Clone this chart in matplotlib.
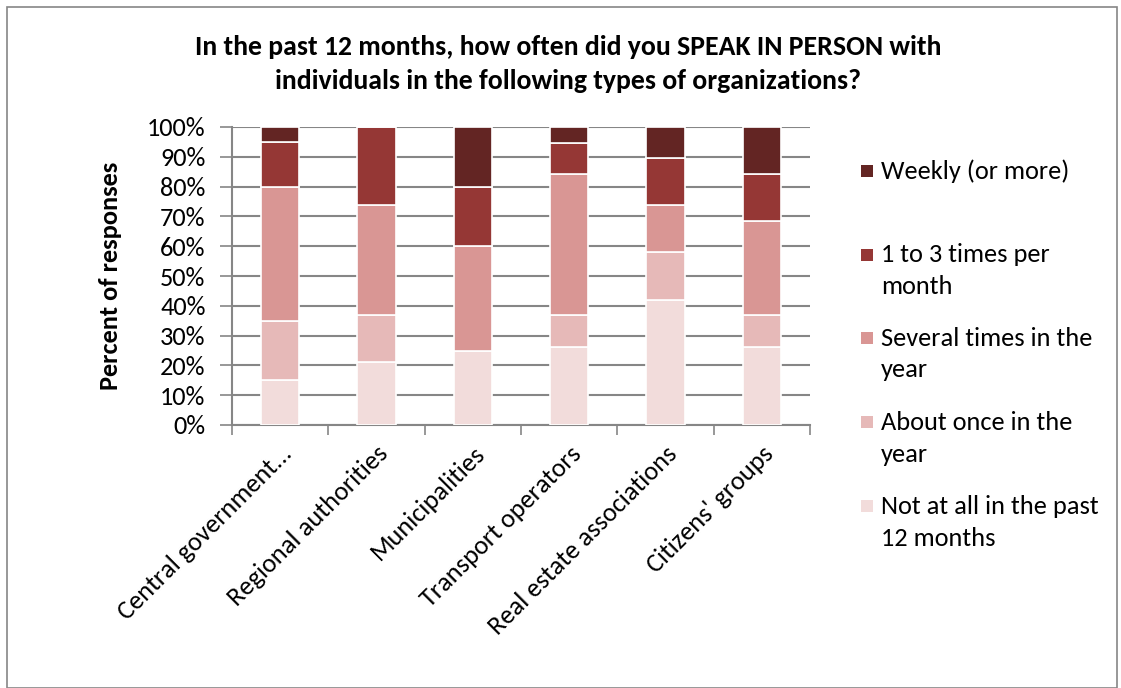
import matplotlib.pyplot as plt
import matplotlib.font_manager as fm
from matplotlib.patches import Rectangle
import numpy as np

# Calibri look-alike if there is one, otherwise Lato
installed = {f.name for f in fm.fontManager.ttflist}
font = 'Carlito' if 'Carlito' in installed else 'Lato'
plt.rcParams['font.family'] = [font, 'DejaVu Sans']

categories = ['Central government...', 'Regional authorities', 'Municipalities',
              'Transport operators', 'Real estate associations', "Citizens' groups"]

# percent of responses, bottom segment first
not_at_all = [15.0, 21.1, 25.0, 26.3, 42.1, 26.3]
once_year = [20.0, 15.8, 0.0, 10.5, 15.8, 10.5]
several_year = [45.0, 36.8, 35.0, 47.4, 15.8, 31.6]
monthly = [15.0, 26.3, 20.0, 10.5, 15.8, 15.8]
weekly = [5.0, 0.0, 20.0, 5.3, 10.5, 15.8]

series = [
    ('Not at all in the past\n12 months', not_at_all, '#F2DCDB'),
    ('About once in the\nyear', once_year, '#E6B9B8'),
    ('Several times in the\nyear', several_year, '#D99694'),
    ('1 to 3 times per\nmonth', monthly, '#953735'),
    ('Weekly (or more)', weekly, '#632523'),
]

W, H = 1121, 688
FS = 19
fig = plt.figure(figsize=(W / 100, H / 100), dpi=100)
fig.patches.append(Rectangle((7 / W, 0), 1110 / W, 1 - 7 / H, transform=fig.transFigure,
                             fill=False, edgecolor='#868686', lw=1.2))

ax = fig.add_axes([232 / W, 1 - 425 / H, 578 / W, 298 / H])
x = np.arange(len(categories))
bottom = np.zeros(len(categories))
for label, vals, color in series:
    ax.bar(x, vals, 0.4, bottom=bottom, color=color, edgecolor='white', lw=1.2,
           label=label, zorder=3)
    bottom += np.array(vals)

ax.set_xlim(-0.5, len(categories) - 0.5)
ax.set_ylim(0, 100)
ax.set_yticks(np.arange(0, 101, 10))
ax.set_yticklabels([f'{v}%' for v in range(0, 101, 10)], fontsize=FS)
ax.yaxis.grid(True, color='#868686', lw=1.5, zorder=0)
ax.tick_params(axis='y', length=9, width=1.2, color='#868686', pad=10)

ax.set_xticks(x)
ax.set_xticklabels(categories, rotation=45, ha='right', rotation_mode='anchor', fontsize=FS)
ax.tick_params(axis='x', length=0, pad=12)
ax.set_xticks(np.arange(-0.5, len(categories), 1), minor=True)
ax.tick_params(axis='x', which='minor', length=7, width=1.2, color='#868686')

for side in ['top', 'right']:
    ax.spines[side].set_visible(False)
for side in ['left', 'bottom']:
    ax.spines[side].set_color('#868686')
    ax.spines[side].set_linewidth(1.5)

ax.set_ylabel('Percent of responses', fontsize=FS, fontweight='bold', labelpad=18)

title_lines = ['In the past 12 months, how often did you SPEAK IN PERSON with',
               'individuals in the following types of organizations?']
for line, yc in zip(title_lines, [47, 81]):
    fig.text(568 / W, 1 - yc / H, line, ha='center', va='center',
             fontsize=20, fontweight='bold')

# legend, top entry is the top segment; each text line placed on its own row
legend_tops = [171, 255, 338, 422, 506]
for (label, vals, color), ytop in zip(series[::-1], legend_tops):
    fig.patches.append(Rectangle((861 / W, 1 - (ytop + 6) / H), 12 / W, 12 / H,
                                 transform=fig.transFigure, facecolor=color, edgecolor='none'))
    for k, line in enumerate(label.split('\n')):
        fig.text(881 / W, 1 - (ytop + 32 * k) / H, line, ha='left', va='center',
                 fontsize=FS)

fig.savefig('out.png', dpi=100)
